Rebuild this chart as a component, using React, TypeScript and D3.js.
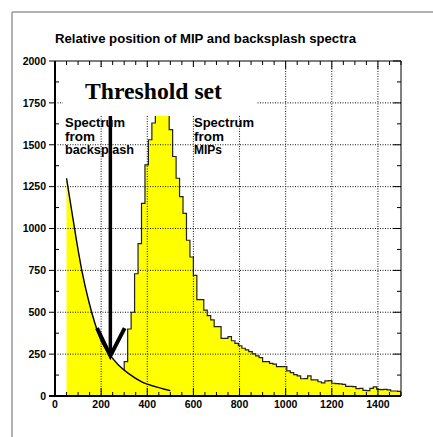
import React from 'react';
import * as d3 from 'd3';

// axis tick labels
const xTicks = [0, 200, 400, 600, 800, 1000, 1200, 1400];
const yTicks = [0, 250, 500, 750, 1000, 1250, 1500, 1750, 2000];

// MIP spectrum histogram: 15-unit bins starting at 300
const binWidth = 15;
const mipFirstBin = 300;
const mipCounts = [
  205, 400, 500, 730, 910, 1150, 1380, 1530, 1630, 1780,
  1850, 1860, 1820, 1590, 1430, 1300, 1190, 1090, 930, 830,
  720, 575, 575, 513, 480, 454, 414, 414, 344, 344,
  354, 330, 314, 300, 285, 275, 265, 251, 240, 229,
  205, 205, 195, 190, 175, 175, 175, 150, 140, 128,
  120, 103, 104, 120, 96, 96, 85, 78, 90, 92,
  76, 74, 72, 70, 58, 58, 56, 44, 46, 34,
  32, 46, 55, 40, 38, 40, 36, 30, 30, 28,
];

// backsplash spectrum (smooth curve)
const backsplashX = [50, 72, 94, 116, 145, 173, 202, 238, 275, 318, 376, 434, 500];
const backsplashY = [1300, 1110, 921, 752, 573, 434, 324, 245, 185, 135, 85, 56, 32];

export default function App() {
  const W = 433;
  const H = 437;
  const x = d3.scaleLinear().domain([0, 1500]).range([55, 401]);
  const y = d3.scaleLinear().domain([0, 2000]).range([396, 61]);
  const [x0, x1] = x.range();
  const [yb, yt] = y.range();

  const hist: [number, number][] = mipCounts.map((c, i) => [mipFirstBin + i * binWidth, c]);
  hist.push([1500, mipCounts[mipCounts.length - 1]]);

  const histArea = d3.area<[number, number]>()
    .x(d => x(d[0])).y0(yb).y1(d => y(d[1]))
    .curve(d3.curveStepAfter);
  const histLine = d3.line<[number, number]>()
    .x(d => x(d[0])).y(d => y(d[1]))
    .curve(d3.curveStepAfter);
  const histOutline = `M${x(mipFirstBin)},${yb}L` + histLine(hist)!.slice(1) + `L${x1},${yb}`;

  const bs: [number, number][] = backsplashX.map((v, i) => [v, backsplashY[i]]);
  const bsArea = d3.area<[number, number]>()
    .x(d => x(d[0])).y0(yb).y1(d => y(d[1]))
    .curve(d3.curveMonotoneX);
  const bsLine = d3.line<[number, number]>()
    .x(d => x(d[0])).y(d => y(d[1]))
    .curve(d3.curveMonotoneX);

  const xMinor = d3.range(0, 1501, 50);
  const yMinor = d3.range(0, 2001, 125);
  const gridX = xTicks.filter(t => t > 0);
  const gridY = yTicks.filter(t => t > 0 && t < 2000);

  const tickFont = { fontFamily: 'Liberation Sans, Arial, sans-serif', fontWeight: 700, fontSize: 10.5 };
  const labelFont = { fontFamily: 'Liberation Sans, Arial, sans-serif', fontWeight: 700, fontSize: 12 };

  // arrow (data units)
  const arrowX = 240;
  const arrowTip = 240;

  return (
    <svg width={W} height={H} style={{ position: 'absolute', left: 0, top: 0, background: '#fff' }}>
      <defs>
        <clipPath id="plot">
          <rect x={x0} y={yt} width={x1 - x0} height={yb - yt} />
        </clipPath>
      </defs>

      {/* outer pad border */}
      <line x1={12} y1={12} x2={W} y2={12} stroke="#999" strokeWidth={1.5} />
      <line x1={12} y1={12} x2={12} y2={H} stroke="#999" strokeWidth={1.5} />

      <text x={55} y={43} {...labelFont} textLength={301} lengthAdjust="spacingAndGlyphs">
        Relative position of MIP and backsplash spectra
      </text>

      <g clipPath="url(#plot)">
        <path d={histArea(hist)!} fill="#ffff00" />
        <path d={histOutline} fill="none" stroke="#222" strokeWidth={1.2} />
        <path d={bsArea(bs)!} fill="#ffff00" />
        <path d={bsLine(bs)!} fill="none" stroke="#000" strokeWidth={1.4} />
      </g>

      {/* grid */}
      <g stroke="#111" strokeWidth={1} strokeDasharray="1 1.5">
        {gridX.map(t => (
          <line key={'gx' + t} x1={x(t)} x2={x(t)} y1={yt} y2={yb} />
        ))}
        {gridY.map(t => (
          <line key={'gy' + t} x1={x0} x2={x1} y1={y(t)} y2={y(t)} />
        ))}
      </g>

      {/* frame */}
      <line x1={x0} x2={x1} y1={yt} y2={yt} stroke="#000" strokeWidth={1} />
      <line x1={x1} x2={x1} y1={yt} y2={yb} stroke="#000" strokeWidth={1} />
      <line x1={x0} x2={x0} y1={yt} y2={yb} stroke="#000" strokeWidth={2} />
      <line x1={x0 - 6} x2={x1} y1={yb} y2={yb} stroke="#000" strokeWidth={2} />

      {/* ticks */}
      <g stroke="#000" strokeWidth={1}>
        {xMinor.map(t => {
          const len = t % 200 === 0 ? 8 : 4;
          return (
            <g key={'xt' + t}>
              <line x1={x(t)} x2={x(t)} y1={yb} y2={yb - len} />
              <line x1={x(t)} x2={x(t)} y1={yt} y2={yt + len} />
            </g>
          );
        })}
        {yMinor.map(t => {
          const major = t % 250 === 0;
          return (
            <g key={'yt' + t}>
              {major
                ? <line x1={x0 - 6} x2={x0} y1={y(t)} y2={y(t)} />
                : <line x1={x0} x2={x0 + 4} y1={y(t)} y2={y(t)} />}
              <line x1={x1} x2={x1 - (major ? 8 : 4)} y1={y(t)} y2={y(t)} />
            </g>
          );
        })}
      </g>

      {/* tick labels */}
      {yTicks.map(t => (
        <text key={'yl' + t} x={46} y={y(t)} dy="0.36em" textAnchor="end" {...tickFont}>{t}</text>
      ))}
      {xTicks.map(t => (
        <text key={'xl' + t} x={x(t)} y={407.5} textAnchor="middle" {...tickFont}>{t}</text>
      ))}

      {/* threshold label box */}
      <rect x={63} y={67} width={193} height={49} fill="#fff" />
      <text x={85} y={99} fontFamily="Liberation Serif, Times New Roman, serif" fontWeight={700}
        fontSize={23} textLength={137} lengthAdjust="spacingAndGlyphs">Threshold set</text>

      <g {...labelFont}>
        <text x={65} y={127} textLength={60} lengthAdjust="spacingAndGlyphs">Spectrum</text>
        <text x={65} y={140.5} textLength={30} lengthAdjust="spacingAndGlyphs">from</text>
        <text x={65} y={154} textLength={69} lengthAdjust="spacingAndGlyphs">backsplash</text>
        <text x={194} y={127} textLength={60} lengthAdjust="spacingAndGlyphs">Spectrum</text>
        <text x={194} y={140.5} textLength={30} lengthAdjust="spacingAndGlyphs">from</text>
        <text x={194} y={154} textLength={28} lengthAdjust="spacingAndGlyphs">MIPs</text>
      </g>

      {/* arrow */}
      <g stroke="#000" fill="none" strokeLinecap="butt">
        <line x1={x(arrowX)} x2={x(arrowX)} y1={116} y2={y(arrowTip)} strokeWidth={3.5} />
        <polyline
          points={`${x(arrowX - 58)},${y(arrowTip + 165)} ${x(arrowX)},${y(arrowTip)} ${x(arrowX + 62)},${y(arrowTip + 165)}`}
          strokeWidth={4} strokeLinejoin="miter" />
      </g>
    </svg>
  );
}
